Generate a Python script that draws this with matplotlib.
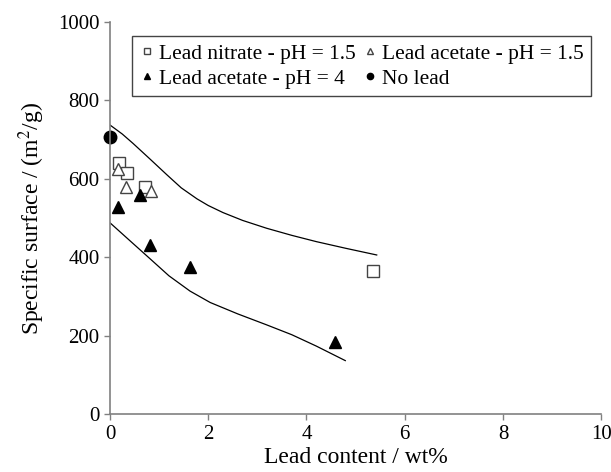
import matplotlib
matplotlib.use("Agg")
import matplotlib.pyplot as plt

plt.rcParams['font.family'] = ['Liberation Serif', 'DejaVu Serif']
plt.rcParams['mathtext.fontset'] = 'stix'

# data
nitrate_x = [0.18, 0.35, 0.72, 5.35]
nitrate_y = [639, 614, 580, 365]

acetate15_x = [0.17, 0.32, 0.83]
acetate15_y = [624, 580, 570]

acetate4_x = [0.17, 0.61, 0.81, 1.63, 4.58]
acetate4_y = [527, 558, 431, 375, 184]

nolead_x = [0.0]
nolead_y = [707]

# guide curves
upper_x = [0.0, 0.25, 0.47, 0.8, 1.16, 1.45, 1.77, 2.0, 2.3, 2.7, 3.19, 3.7, 4.2, 4.8, 5.43]
upper_y = [737, 714, 690, 652, 610, 577, 549, 532, 514, 494, 474, 456, 440, 423, 406]
lower_x = [0.0, 0.4, 0.81, 1.2, 1.63, 2.04, 2.6, 3.19, 3.7, 4.2, 4.79]
lower_y = [488, 443, 397, 353, 314, 285, 256, 228, 203, 174, 137]

fig = plt.figure(figsize=(6.11, 4.72), dpi=100)
ax = fig.add_axes([0.18, 0.122, 0.804, 0.832])

ax.plot(upper_x, upper_y, color='black', lw=0.9)
ax.plot(lower_x, lower_y, color='black', lw=0.9)

h1, = ax.plot(nitrate_x, nitrate_y, 's', ms=9, mfc='white', mec='#444444', mew=1,
              label='Lead nitrate - pH = 1.5')
h2, = ax.plot(acetate15_x, acetate15_y, '^', ms=9, mfc='white', mec='#444444', mew=1,
              label='Lead acetate - pH = 1.5')
h3, = ax.plot(acetate4_x, acetate4_y, '^', ms=9, color='black',
              label='Lead acetate - pH = 4')
h4, = ax.plot(nolead_x, nolead_y, 'o', ms=9, color='black', label='No lead', clip_on=False)

ax.set_xlim(0, 10)
ax.set_ylim(0, 1000)
ax.set_xticks([0, 2, 4, 6, 8, 10])
ax.set_yticks([0, 200, 400, 600, 800, 1000])

for s in ['top', 'right']:
    ax.spines[s].set_visible(False)
for s in ['left', 'bottom']:
    ax.spines[s].set_color('#808080')
    ax.spines[s].set_linewidth(1.2)
ax.tick_params(colors='#808080', labelcolor='black', labelsize=15, length=4, width=1)

ax.set_xlabel('Lead content / wt%', fontsize=17, labelpad=2)
ax.set_ylabel('Specific surface / (m$^2$/g)', fontsize=17, labelpad=8)

# row-wise order like the original legend
handles = [h1, h3, h2, h4]
leg = ax.legend(handles=handles, labels=[h.get_label() for h in handles],
                loc='upper left', bbox_to_anchor=(0.044, 0.963), ncol=2, fontsize=15.5,
                markerscale=0.5, handletextpad=0.2, handlelength=0.7,
                columnspacing=0.35, borderpad=0.35, labelspacing=0.22,
                borderaxespad=0, fancybox=False, edgecolor='#444444', framealpha=1)
leg.get_frame().set_linewidth(1.0)

fig.savefig('out.png', dpi=100)
